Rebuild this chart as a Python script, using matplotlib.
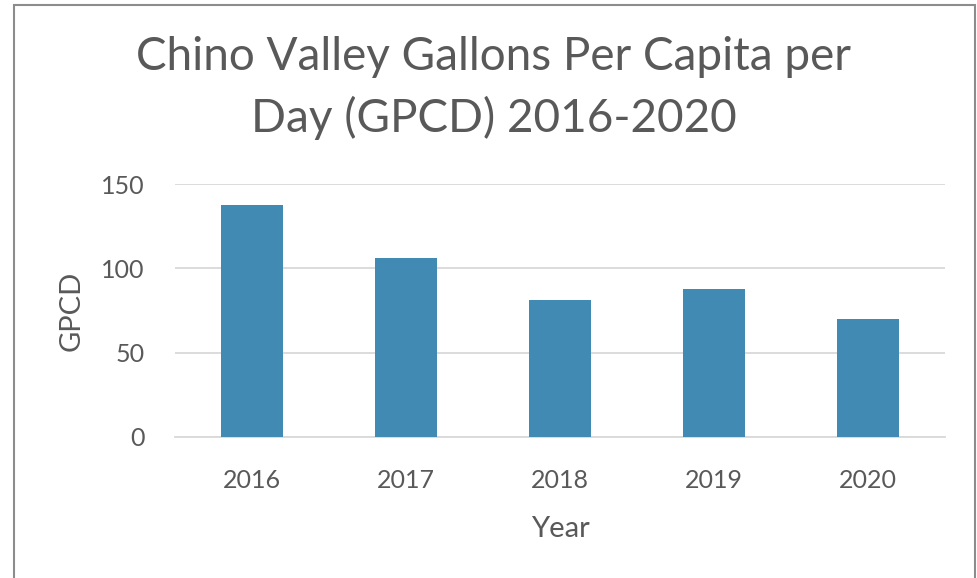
import matplotlib
matplotlib.use('Agg')
import matplotlib.pyplot as plt
from matplotlib.patches import Rectangle

years = ['2016', '2017', '2018', '2019', '2020']
gpcd = [137.5, 106, 81, 88, 70]
yticks = [0, 50, 100, 150]

plt.rcParams['font.family'] = ['Lato', 'DejaVu Sans']
txt = '#595959'

fig = plt.figure(figsize=(9.77, 5.78), dpi=100)
ax = fig.add_axes([175/977, 1 - 437/578, 770/977, 253/578])

x = range(len(years))
ax.bar(x, gpcd, width=0.4, color='#418AB3', zorder=3)
ax.set_xlim(-0.5, 4.5)
ax.set_ylim(0, 150)
ax.set_xticks(list(x))
ax.set_xticklabels(years)
ax.set_yticks(yticks)
ax.grid(axis='y', color='#D9D9D9', linewidth=1.3, zorder=0)
for s in ['top', 'right', 'left']:
    ax.spines[s].set_visible(False)
ax.spines['bottom'].set_color('#D9D9D9')
ax.spines['bottom'].set_linewidth(1.3)
ax.tick_params(length=0, labelsize=18, colors=txt)
ax.tick_params(axis='x', pad=23)
ax.tick_params(axis='y', pad=22)
ax.set_xlabel('Year', fontsize=21, color=txt, labelpad=17)
ax.set_ylabel('GPCD', fontsize=21, color=txt, labelpad=12)

fig.text(0.505, 1 - 57/578, 'Chino Valley Gallons Per Capita per', ha='center', va='center',
         fontsize=33, color=txt)
fig.text(0.505, 1 - 118/578, 'Day (GPCD) 2016-2020', ha='center', va='center',
         fontsize=33, color=txt)

fig.patches.append(Rectangle((14/977, -0.02), 961/977, 1.02 - 5/578, transform=fig.transFigure,
                             fill=False, edgecolor='#8C8C8C', linewidth=1.5))

fig.savefig('out.png', dpi=100)
